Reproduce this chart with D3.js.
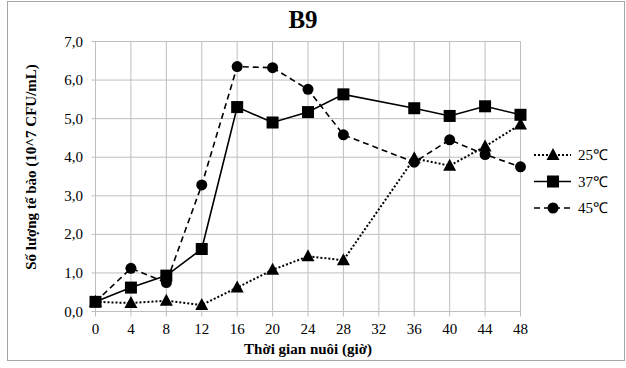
<!DOCTYPE html>
<html><head><meta charset="utf-8">
<script src="https://cdn.jsdelivr.net/npm/d3@7"></script>
<style>body{margin:0;background:#fff}svg{display:block}</style>
</head><body><svg id="c" width="626" height="368"></svg>
<script>
const hours = [0,4,8,12,16,20,24,28,32,36,40,44,48];
const s25 = [0.25,0.22,0.28,0.17,0.62,1.08,1.43,1.33,null,3.97,3.78,4.28,4.85];
const s37 = [0.25,0.62,0.93,1.62,5.30,4.90,5.17,5.63,null,5.27,5.07,5.32,5.10];
const s45 = [0.25,1.12,0.75,3.28,6.35,6.32,5.76,4.58,null,3.87,4.45,4.07,3.75];
const yTicks = [0,1,2,3,4,5,6,7];
const seriesNames = ["25℃","37℃","45℃"];
const FONT = '"Liberation Serif"';

const svg = d3.select("#c");
svg.append("rect").attr("x",7.5).attr("y",1.5).attr("width",617).attr("height",359).attr("fill","#fff").attr("stroke","#a6a6a6");
const L=95.5,R=520.5,T=41.5,B=311.5;
const x = d3.scaleLinear().domain([0,48]).range([L,R]);
const y = d3.scaleLinear().domain([0,7]).range([B,T]);
const grid="#bfbfbf";
svg.append("g").selectAll("line").data(yTicks).join("line")
 .attr("x1",L-4).attr("x2",R).attr("y1",d=>y(d)).attr("y2",d=>y(d)).attr("stroke",grid);
svg.append("g").selectAll("line").data(hours).join("line")
 .attr("x1",d=>x(d)).attr("x2",d=>x(d)).attr("y1",T).attr("y2",B+5).attr("stroke",grid);
svg.append("g").selectAll("text").data(yTicks).join("text")
 .attr("x",83).attr("y",d=>y(d)+5).attr("text-anchor","end").attr("font-size",15).style("font-family",FONT)
 .text(d=>d.toFixed(1).replace(".",","));
svg.append("g").selectAll("text").data(hours).join("text")
 .attr("x",d=>x(d)).attr("y",334).attr("text-anchor","middle").attr("font-size",15).style("font-family",FONT).text(d=>d);
svg.append("text").attr("x",303).attr("y",28).attr("text-anchor","middle").attr("font-size",25).attr("font-weight","bold").style("font-family",FONT).text("B9");
svg.append("text").attr("x",308).attr("y",354).attr("text-anchor","middle").attr("font-size",15).attr("font-weight","bold").style("font-family",FONT).text("Thời gian nuôi (giờ)");
svg.append("text").attr("transform","translate(36,167) rotate(-90)").attr("text-anchor","middle").attr("font-size",15).attr("font-weight","bold").style("font-family",FONT).text("Số lượng tế bào (10^7 CFU/mL)");

const series=[
 {vals:s25,dash:"2,2",marker:"tri"},
 {vals:s37,dash:null,marker:"sq"},
 {vals:s45,dash:"6,4",marker:"circ"}];
const line=d3.line().x(d=>x(d[0])).y(d=>y(d[1]));
function marker(g,type,cx,cy){
  if(type==="sq") g.append("rect").attr("x",cx-6).attr("y",cy-6).attr("width",12).attr("height",12).attr("fill","#000");
  else if(type==="circ") g.append("circle").attr("cx",cx).attr("cy",cy).attr("r",5.5).attr("fill","#000");
  else g.append("path").attr("d",`M${cx},${cy-7}L${cx+6.5},${cy+5}L${cx-6.5},${cy+5}Z`).attr("fill","#000");
}
series.forEach((s,i)=>{
  const pts=hours.map((h,j)=>[h,s.vals[j]]).filter(p=>p[1]!=null);
  const g=svg.append("g");
  g.append("path").attr("d",line(pts)).attr("fill","none").attr("stroke","#000").attr("stroke-width",s.marker==="tri"?2:1.6)
   .attr("stroke-dasharray",s.dash);
  pts.forEach(p=>marker(g,s.marker,x(p[0]),y(p[1])));
  const ly=155+i*26.5;
  const lg=svg.append("g");
  lg.append("line").attr("x1",534).attr("x2",571).attr("y1",ly).attr("y2",ly).attr("stroke","#000").attr("stroke-width",s.marker==="tri"?2:1.6).attr("stroke-dasharray",s.dash);
  marker(lg,s.marker,553,ly);
  lg.append("text").attr("x",578).attr("y",ly+5).attr("font-size",15).style("font-family",FONT).text(seriesNames[i]);
});
</script></body></html>
